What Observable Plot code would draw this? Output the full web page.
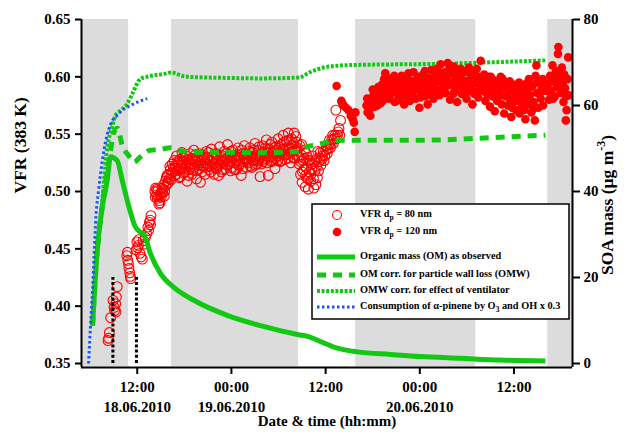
<!DOCTYPE html>
<html>
<head>
<meta charset="utf-8">
<script src="https://cdn.jsdelivr.net/npm/d3@7"></script>
<script src="https://cdn.jsdelivr.net/npm/@observablehq/plot@0.6"></script>
<style>
  html, body { margin: 0; padding: 0; background: #fff; }
  #chart { position: relative; width: 630px; height: 433px; }
  #chart > svg { position: absolute; left: 0; top: 0; }
</style>
</head>
<body>
<div id="chart"></div>
<script>
// Time is given in hours after 18.06.2010 00:00.
const timeDomain = [4.9, 67.45];

// Dark periods of the chamber (grey bands)
const darkPeriods = [[4.9, 10.9], [16.37, 32.55], [39.82, 55.12], [64.3, 67.45]];

// Axis ticks
const vfrTicks = [0.35, 0.40, 0.45, 0.50, 0.55, 0.60, 0.65];
const massTicks = [0, 20, 40, 60, 80];
const xTickHours = [12, 24, 36, 48, 60];
const xTickLabels = ["12:00\n18.06.2010", "00:00\n19.06.2010", "12:00", "00:00\n20.06.2010", "12:00"];

// Volatility fraction remaining at 383 K, 80 nm particles [hour, VFR]
const vfr80 = [
  [8.28,0.370],[8.35,0.372],[8.45,0.377],[8.62,0.390],[8.92,0.405],[9.05,0.399],[9.12,0.396],[9.25,0.402],[9.30,0.395],[9.45,0.417],[9.35,0.408],
  [10.68,0.444],[10.80,0.440],[10.88,0.437],[10.95,0.433],[11.05,0.429],[11.12,0.426],[11.18,0.424],[10.75,0.447],
  [11.95,0.456],[12.05,0.451],[11.85,0.449],[12.20,0.458],[12.35,0.446],[12.50,0.443],[12.65,0.441],[12.75,0.457],[12.90,0.454],[13.05,0.460],[13.20,0.463],[13.35,0.469],[13.45,0.466],[13.55,0.473],[13.65,0.475],[13.75,0.479],[13.70,0.471],[12.15,0.453],
  [14.25,0.500],[14.35,0.503],[14.45,0.497],[14.55,0.494],[14.65,0.501],[14.75,0.489],[14.85,0.492],[14.95,0.498],[15.05,0.495],[15.15,0.503],[15.25,0.499],[15.35,0.506],[15.50,0.500],[15.60,0.509],[15.70,0.512],[15.85,0.507],[16.00,0.515],[16.10,0.511],[16.20,0.519],[16.35,0.516],[16.45,0.524],[16.60,0.521],
  [14.30,0.495],[14.50,0.502],[14.70,0.496],[14.90,0.490],[15.10,0.499],[15.30,0.502],[15.45,0.496],[15.65,0.505],[15.80,0.514],[15.95,0.508],[16.15,0.522],[16.30,0.510],[16.55,0.517],
  [16.70,0.527],[16.80,0.514],[16.90,0.522],[17.00,0.531],[17.10,0.518],[17.25,0.525],[17.35,0.512],[17.45,0.528],[17.55,0.520],[17.70,0.534],[17.80,0.523],[17.90,0.516],[18.00,0.529],[18.15,0.521],[18.25,0.531],[18.35,0.509],[18.50,0.526],[18.60,0.519],[18.70,0.533],[18.85,0.524],[18.95,0.515],[19.05,0.528],[19.20,0.536],[19.30,0.521],[19.45,0.526],[19.55,0.511],[19.65,0.530],[19.80,0.523],[19.90,0.533],
  [16.75,0.520],[16.95,0.515],[17.15,0.526],[17.30,0.519],[17.50,0.513],[17.65,0.526],[17.85,0.530],[18.05,0.517],[18.20,0.524],[18.40,0.528],[18.55,0.514],[18.80,0.521],[18.90,0.529],[19.10,0.519],[19.25,0.524],[19.40,0.532],[19.60,0.518],[19.75,0.527],[19.95,0.520],
  [20.05,0.508],[20.15,0.527],[20.30,0.532],[20.40,0.522],[20.55,0.529],[20.65,0.515],[20.80,0.535],[20.90,0.524],[21.05,0.530],[21.15,0.519],[21.30,0.527],[21.45,0.537],[21.55,0.523],[21.70,0.530],[21.80,0.515],[21.95,0.526],[22.10,0.533],[22.20,0.521],[22.35,0.514],[22.50,0.539],[22.60,0.524],[22.75,0.517],[22.85,0.531],[23.00,0.526],[23.10,0.535],[23.25,0.520],[23.40,0.529],[23.50,0.541],[23.65,0.524],[23.80,0.532],[23.90,0.518],[24.05,0.528],[24.20,0.536],[24.30,0.525],[24.45,0.531],[24.60,0.519],[24.70,0.527],[24.85,0.538],[25.00,0.523],[25.10,0.530],[25.25,0.514],[25.40,0.533],[25.50,0.526],[25.65,0.540],[25.80,0.528],[25.90,0.521],
  [20.10,0.523],[20.25,0.517],[20.45,0.530],[20.60,0.525],[20.75,0.521],[20.95,0.528],[21.10,0.534],[21.25,0.522],[21.40,0.517],[21.60,0.529],[21.75,0.524],[21.90,0.533],[22.05,0.520],[22.25,0.527],[22.45,0.523],[22.65,0.530],[22.80,0.526],[22.95,0.519],[23.15,0.528],[23.30,0.533],[23.45,0.523],[23.60,0.530],[23.75,0.526],[23.95,0.535],[24.10,0.521],[24.25,0.530],[24.40,0.519],[24.55,0.527],[24.75,0.532],[24.95,0.529],[25.15,0.524],[25.30,0.536],[25.45,0.520],[25.60,0.529],[25.75,0.533],[25.95,0.526],
  [26.05,0.532],[26.20,0.525],[26.35,0.538],[26.45,0.529],[26.60,0.521],[26.75,0.534],[26.85,0.527],[27.00,0.542],[27.15,0.531],[27.25,0.524],[27.40,0.536],[27.55,0.528],[27.65,0.513],[27.80,0.533],[27.95,0.540],[28.05,0.526],[28.20,0.535],[28.35,0.529],[28.45,0.545],[28.60,0.531],[28.70,0.514],[28.85,0.537],[29.00,0.530],[29.15,0.543],[29.25,0.527],[29.40,0.535],[29.55,0.520],[29.65,0.539],[29.80,0.531],[29.95,0.546],[30.05,0.534],[30.20,0.526],[30.35,0.541],[30.45,0.532],[30.60,0.549],[30.75,0.536],[30.85,0.528],[31.00,0.544],[31.15,0.533],[31.25,0.551],[31.40,0.538],[31.55,0.525],[31.65,0.546],[31.80,0.535],[31.95,0.542],[32.05,0.529],[32.20,0.548],[32.35,0.537],[32.45,0.531],
  [26.10,0.529],[26.25,0.535],[26.40,0.522],[26.55,0.531],[26.70,0.527],[26.90,0.536],[27.05,0.523],[27.20,0.530],[27.35,0.527],[27.50,0.539],[27.70,0.530],[27.85,0.524],[28.00,0.534],[28.15,0.528],[28.30,0.538],[28.50,0.525],[28.65,0.534],[28.80,0.530],[28.95,0.541],[29.10,0.526],[29.30,0.533],[29.45,0.538],[29.60,0.529],[29.75,0.536],[29.90,0.527],[30.10,0.539],[30.25,0.533],[30.40,0.527],[30.55,0.537],[30.70,0.543],[30.90,0.532],[31.05,0.538],[31.20,0.529],[31.35,0.545],[31.50,0.534],[31.70,0.540],[31.85,0.530],[32.00,0.551],[32.15,0.536],[32.30,0.543],[32.50,0.538],
  [32.60,0.524],[32.70,0.540],[32.80,0.515],[32.90,0.532],[33.00,0.508],[33.10,0.527],[33.20,0.519],[33.30,0.536],[33.40,0.504],[33.50,0.521],[33.60,0.512],[33.70,0.530],[33.80,0.502],[33.90,0.517],[34.00,0.525],[34.10,0.509],[34.25,0.520],[34.35,0.531],[34.50,0.503],[34.60,0.526],[34.75,0.506],[34.85,0.522],[35.00,0.535],[35.10,0.518],[35.25,0.529],
  [32.65,0.530],[32.85,0.526],[32.95,0.541],[33.05,0.517],[33.25,0.529],[33.45,0.514],[33.55,0.533],[33.75,0.511],[33.95,0.527],[34.15,0.515],[34.30,0.524],[34.45,0.511],[34.65,0.518],[34.80,0.528],[34.95,0.512],[35.15,0.526],[35.30,0.534],
  [35.40,0.523],[35.60,0.531],[35.80,0.527],[36.00,0.536],[36.20,0.533],[36.40,0.541],[36.60,0.538],[36.80,0.545],[37.00,0.542],[37.20,0.549],[37.40,0.546],[37.60,0.552],[37.80,0.549],[37.30,0.571],[37.90,0.562],
  [35.50,0.528],[35.70,0.535],[35.90,0.531],[36.10,0.540],[36.30,0.537],[36.50,0.545],[36.70,0.541],[36.90,0.549],[37.10,0.546],[37.50,0.549],[37.70,0.555]
];

// Volatility fraction remaining at 383 K, 120 nm particles [hour, VFR]
const vfr120 = [
  [37.40,0.592],[38.00,0.579],[38.10,0.577],[38.30,0.575],[38.60,0.573],[38.90,0.571],[39.20,0.566],[39.45,0.563],[39.60,0.560],[39.70,0.552],[39.80,0.569],
  [41.20,0.575],[41.35,0.569],[41.50,0.578],[41.65,0.572],[41.80,0.581],[41.95,0.576],[42.10,0.584],[42.25,0.574],[42.40,0.587],[42.55,0.580],[42.70,0.591],[42.85,0.583],[43.00,0.577],[43.15,0.593],[43.30,0.586],[43.45,0.598],[43.60,0.603],[43.75,0.589],[43.90,0.596],[44.05,0.581],[44.20,0.592],[44.35,0.585],[44.50,0.599],[44.65,0.588],[44.80,0.578],[44.95,0.594],
  [45.10,0.586],[45.25,0.597],[45.40,0.580],[45.55,0.591],[45.70,0.601],[45.85,0.588],[46.00,0.576],[46.15,0.595],[46.30,0.583],[46.45,0.599],[46.60,0.590],[46.75,0.579],[46.90,0.594],[47.05,0.586],[47.20,0.604],[47.35,0.592],[47.50,0.581],[47.65,0.597],[47.80,0.589],[47.95,0.573],[48.10,0.594],[48.25,0.585],[48.40,0.602],[48.55,0.596],[48.70,0.583],[48.85,0.591],[49.00,0.576],[49.15,0.599],[49.30,0.587],[49.45,0.606],[49.60,0.594],[49.75,0.581],[49.90,0.600],[50.05,0.589],[50.20,0.607],[50.35,0.596],
  [50.50,0.584],[50.65,0.611],[50.80,0.598],[50.95,0.590],[51.10,0.604],[51.25,0.586],[51.40,0.600],[51.55,0.612],[51.70,0.593],[51.85,0.580],[52.00,0.603],[52.15,0.595],[52.30,0.609],[52.45,0.588],[52.60,0.599],[52.75,0.578],[52.90,0.601],[53.05,0.592],[53.20,0.607],[53.35,0.585],[53.50,0.597],[53.65,0.590],[53.80,0.604],[53.95,0.581],[54.10,0.596],[54.25,0.608],[54.40,0.589],[54.55,0.600],[54.70,0.576],[54.85,0.594],[55.00,0.603],[55.15,0.587],[55.30,0.598],[55.45,0.582],[55.60,0.593],[55.75,0.614],[55.90,0.599],
  [56.05,0.588],[56.20,0.602],[56.35,0.579],[56.50,0.595],[56.65,0.585],[56.80,0.600],[56.95,0.574],[57.10,0.591],[57.25,0.583],[57.40,0.597],[57.55,0.570],[57.70,0.588],[57.85,0.579],[58.00,0.594],[58.15,0.585],[58.30,0.600],[58.45,0.576],[58.60,0.590],[58.75,0.568],[58.90,0.583],[59.05,0.595],[59.20,0.575],[59.35,0.587],[59.50,0.580],[59.65,0.565],[59.80,0.592],[59.95,0.578],[60.10,0.586],[60.25,0.571],[60.40,0.590],[60.55,0.579],[60.70,0.568],[60.85,0.585],[61.00,0.574],[61.15,0.590],[61.30,0.581],[61.45,0.563],[61.60,0.587],[61.75,0.576],[61.90,0.598],
  [62.05,0.584],[62.20,0.569],[62.35,0.592],[62.50,0.578],[62.65,0.562],[62.75,0.601],[62.85,0.610],[62.95,0.586],[63.10,0.573],[63.25,0.596],[63.40,0.581],[63.55,0.591],[63.70,0.575],[63.85,0.588],
  [64.30,0.594],[64.45,0.580],[64.60,0.601],[64.75,0.588],[64.90,0.610],[65.05,0.596],[65.20,0.583],[65.35,0.605],[65.50,0.591],[65.60,0.620],[65.65,0.626],[65.85,0.599],[66.00,0.586],[66.10,0.608],[66.20,0.594],[66.30,0.578],[66.40,0.602],[66.50,0.590],[66.60,0.562],[66.70,0.571],[66.80,0.598],[66.90,0.617],[66.95,0.584],
  [41.30,0.581],[41.70,0.566],[42.00,0.589],[42.30,0.580],[42.60,0.575],[42.95,0.589],[43.25,0.579],[43.55,0.592],[43.85,0.583],[44.15,0.598],[44.45,0.590],[44.75,0.601],[45.05,0.579],[45.35,0.592],[45.65,0.584],[45.95,0.598],[46.25,0.590],[46.55,0.603],[46.85,0.584],[47.15,0.596],[47.45,0.590],[47.75,0.600],[48.05,0.582],[48.35,0.592],[48.65,0.605],[48.95,0.588],[49.25,0.595],[49.55,0.584],[49.85,0.593],[50.15,0.598],
  [50.45,0.603],[50.75,0.589],[51.05,0.596],[51.35,0.592],[51.65,0.606],[51.95,0.595],[52.25,0.585],[52.55,0.606],[52.85,0.592],[53.15,0.598],[53.45,0.605],[53.75,0.592],[54.05,0.587],[54.35,0.597],[54.65,0.604],[54.95,0.585],[55.25,0.607],[55.55,0.600],[55.85,0.590],[56.15,0.595],[56.45,0.586],[56.75,0.592],[57.05,0.600],[57.35,0.588],[57.65,0.595],[57.95,0.582],[58.25,0.591],[58.55,0.598],[58.85,0.591],[59.15,0.583],
  [59.45,0.596],[59.75,0.573],[60.05,0.593],[60.35,0.582],[60.65,0.595],[60.95,0.586],[61.25,0.571],[61.55,0.594],[61.85,0.583],[62.15,0.591],[62.45,0.572],[62.90,0.595],[63.30,0.586],[63.65,0.598],[64.40,0.587],[64.70,0.596],[65.00,0.581],[65.30,0.598],[65.70,0.604],[66.05,0.596],[66.35,0.587],[66.65,0.583]
];

// SOA mass, µg m-3 [hour, mass]
const organicMass = [
  [6.31,8.8],[6.90,26.3],[7.54,36.3],[8.18,42.6],[8.60,48.1],[9.45,47.2],[10.09,42.6],[10.73,37.9],[11.78,31.7],[12.42,30.5],[12.84,30.0],[13.69,25.5],[14.97,20.9],[16.66,17.7],[19.21,14.7],[23.46,11.2],[27.71,8.8],[32.55,6.7],[33.70,6.3],[35.36,5.1],[37.27,3.7],[40.07,2.7],[44.27,2.1],[48.09,1.6],[53.19,1.2],[58.28,0.8],[64.00,0.6]
];
const wallLossCorrected = [
  [6.31,8.8],[6.90,26.3],[7.54,36.5],[8.18,44.9],[8.60,49.5],[9.02,53.7],[9.49,54.7],[10.09,50.7],[10.89,48.4],[11.57,46.8],[12.42,48.1],[13.48,49.5],[14.97,49.8],[16.24,50.2],[17.90,49.3],[19.17,49.1],[22.61,49.1],[27.71,49.0],[32.55,49.3],[33.19,50.2],[34.97,50.9],[36.62,51.6],[38.28,51.9],[45.54,51.9],[50.64,52.0],[55.73,52.4],[64.00,53.1]
];
const ventilatorCorrected = [
  [6.31,8.8],[6.56,17.0],[7.07,28.6],[7.54,37.9],[8.18,50.1],[8.82,55.3],[9.24,57.7],[9.87,58.8],[10.73,60.4],[11.36,62.7],[12.42,66.2],[13.27,66.7],[15.82,67.5],[16.24,67.7],[17.94,66.8],[19.21,66.6],[23.89,66.4],[27.71,66.3],[32.55,66.5],[34.08,67.8],[36.25,69.0],[39.18,69.4],[50.64,69.7],[64.00,70.5]
];
const pineneConsumption = [
  [5.80,0.0],[6.05,8.8],[6.31,17.0],[6.50,25.0],[6.75,34.4],[7.07,40.2],[7.32,44.0],[7.75,49.5],[8.09,52.6],[8.60,55.6],[9.45,57.7],[10.25,59.1],[11.15,60.0],[12.17,60.9],[13.27,61.6]
];

// Sampling markers (vertical dotted lines)
const markerHours = [8.9, 11.9];
const markerTop = 0.425;

const T0 = Date.UTC(2010, 5, 18);
const at = h => new Date(T0 + h * 3600e3);
// SOA mass shares the VFR scale: 0–80 µg m-3 spans 0.35–0.65
const massToVfr = m => 0.35 + m * 0.3 / 80;
const vfrToMass = v => Math.round((v - 0.35) * 80 / 0.3);

const xLabel = new Map(xTickHours.map((h, i) => [+at(h), xTickLabels[i]]));

const green = "#12c812";
const red = "#ff0000";
const blue = "#1a55ff";
const serif = "'Liberation Serif', 'Times New Roman', serif";
const dashOMW = "9,7";
const dotVent = "3,1.6";
const dotPinene = "2.5,2.5";

const lineOpts = {x: d => at(d[0]), y: d => massToVfr(d[1]), stroke: green, strokeLinecap: "butt", curve: "monotone-x"};

const chart = Plot.plot({
  width: 630,
  height: 433,
  marginLeft: 81,
  marginRight: 58,
  marginTop: 19,
  marginBottom: 66,
  insetBottom: 4,
  style: {fontFamily: serif, fontWeight: "bold", fontSize: "15px", background: "#fff", color: "#000", overflow: "visible"},
  x: {type: "utc", domain: timeDomain.map(at)},
  y: {domain: [0.35, 0.65]},
  marks: [
    Plot.rect(darkPeriods, {x1: d => at(d[0]), x2: d => at(d[1]), y1: 0.347, y2: 0.65, fill: "#dcdcdc"}),
    Plot.line(ventilatorCorrected, {...lineOpts, strokeWidth: 4, strokeDasharray: dotVent}),
    Plot.dot(vfr120, {x: d => at(d[0]), y: d => d[1], r: 4.3, fill: red}),
    Plot.dot(vfr80, {x: d => at(d[0]), y: d => d[1], r: 4.9, stroke: red, strokeWidth: 1.1, fill: "none"}),
    Plot.line(wallLossCorrected, {...lineOpts, strokeWidth: 5, strokeDasharray: dashOMW}),
    Plot.line(organicMass, {...lineOpts, strokeWidth: 5}),
    Plot.line(pineneConsumption, {...lineOpts, stroke: blue, strokeWidth: 3, strokeDasharray: dotPinene}),
    Plot.ruleX(markerHours, {x: at, y1: 0.35, y2: markerTop, stroke: "#000", strokeWidth: 3, strokeDasharray: "3,2.2"}),
    // frame: left, right and bottom axis lines
    Plot.ruleX(timeDomain, {x: at, stroke: "#000", strokeWidth: 2}),
    Plot.ruleY([0.35], {dy: 4, stroke: "#000", strokeWidth: 2}),
    Plot.axisY(vfrTicks, {anchor: "left", tickSize: 6, tickPadding: 5, strokeWidth: 2, fontSize: 15, tickFormat: d3.format(".2f"), label: null}),
    Plot.axisY(massTicks.map(massToVfr), {anchor: "right", tickSize: 7, tickPadding: 4, strokeWidth: 2, fontSize: 15, tickFormat: vfrToMass, label: null}),
    Plot.axisX(xTickHours.map(at), {anchor: "bottom", tickSize: 7, tickPadding: 4, strokeWidth: 2, fontSize: 15, lineHeight: 1.3, tickFormat: d => xLabel.get(+d), label: null}),
    Plot.text(["VFR (383 K)"], {frameAnchor: "left", dx: -61, rotate: -90, fontSize: 17.5, fontWeight: "bold"}),
    Plot.text(["Date & time (hh:mm)"], {frameAnchor: "bottom", dy: 58, fontSize: 15, fontWeight: "bold"})
  ]
});

const container = document.getElementById("chart");
container.appendChild(chart);

// Overlay layer for the right-hand axis title and the legend box
const overlay = d3.create("svg")
  .attr("width", 630).attr("height", 433)
  .attr("viewBox", "0 0 630 433")
  .style("pointer-events", "none");
container.appendChild(overlay.node());

const rt = overlay.append("text")
  .attr("transform", "translate(609,205) rotate(-90)")
  .attr("text-anchor", "middle")
  .attr("dominant-baseline", "middle")
  .attr("font-family", serif).attr("font-weight", "bold").attr("font-size", 17.5).attr("fill", "#000");
rt.append("tspan").text("SOA mass (µg m");
rt.append("tspan").attr("dy", -7).attr("font-size", 12).text("-3");
rt.append("tspan").attr("dy", 7).text(")");

const legend = overlay.append("g")
  .attr("font-family", serif).attr("font-weight", "bold").attr("font-size", 10.3);

legend.append("rect")
  .attr("x", 312).attr("y", 204).attr("width", 257).attr("height", 115)
  .attr("fill", "#ffffff").attr("stroke", "#000000").attr("stroke-width", 1.5);

function legendText(y, parts) {
  const t = legend.append("text")
    .attr("x", 360).attr("y", y)
    .attr("text-anchor", "start")
    .attr("dominant-baseline", "middle")
    .attr("fill", "#000");
  for (const [s, kind] of parts) {
    const sp = t.append("tspan").text(s);
    if (kind === "sub") sp.attr("font-size", 7.5).attr("dy", 3);
    if (kind === "back") sp.attr("dy", -3);
  }
}

legend.append("circle").attr("cx", 337).attr("cy", 215).attr("r", 4.5)
  .attr("fill", "none").attr("stroke", red).attr("stroke-width", 1.1);
legendText(215, [["VFR d"], ["p", "sub"], [" = 80 nm", "back"]]);
legend.append("circle").attr("cx", 337).attr("cy", 232).attr("r", 4.3).attr("fill", red);
legendText(232, [["VFR d"], ["p", "sub"], [" = 120 nm", "back"]]);

const legendLines = [
  {y: 257, stroke: green, width: 5, dash: null, label: [["Organic mass (OM) as observed"]]},
  {y: 275, stroke: green, width: 5, dash: dashOMW, label: [["OM corr. for particle wall loss (OMW)"]]},
  {y: 291, stroke: green, width: 4, dash: dotVent, label: [["OMW corr. for effect of ventilator"]]},
  {y: 307, stroke: blue, width: 3, dash: dotPinene, label: [["Consumption of α-pinene by O"], ["3", "sub"], [" and OH x 0.3", "back"]]}
];
for (const l of legendLines) {
  const ln = legend.append("line")
    .attr("x1", 317).attr("x2", 355).attr("y1", l.y).attr("y2", l.y)
    .attr("stroke", l.stroke).attr("stroke-width", l.width);
  if (l.dash) ln.attr("stroke-dasharray", l.dash);
  legendText(l.y, l.label);
}
</script>
</body>
</html>
